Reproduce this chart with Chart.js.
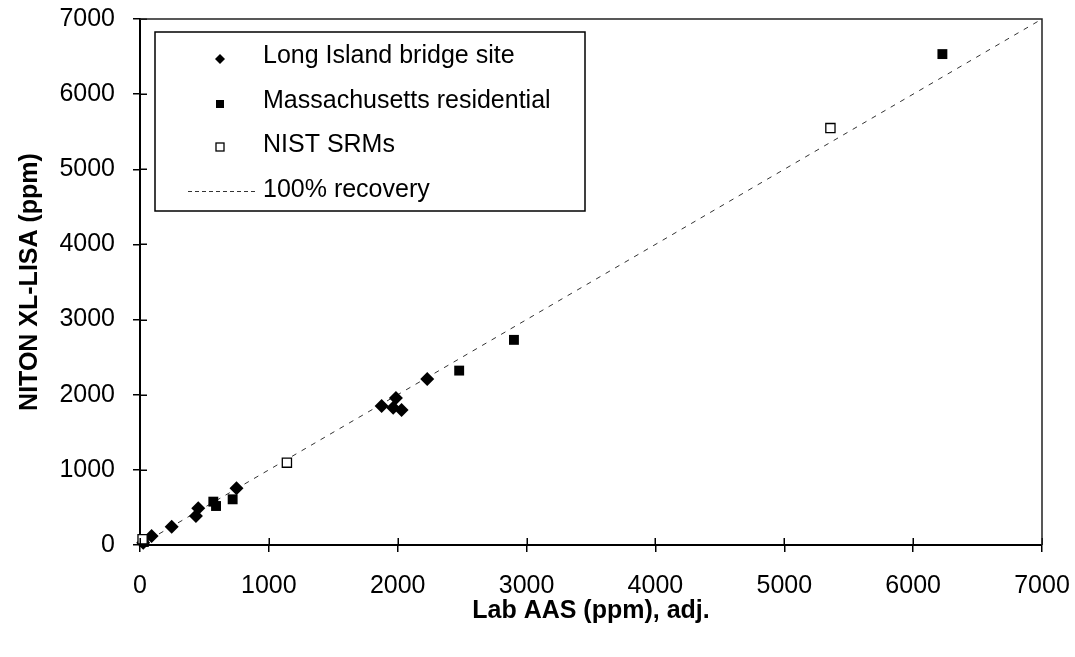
<!DOCTYPE html>
<html>
<head>
<meta charset="utf-8">
<script src="https://cdn.jsdelivr.net/npm/chart.js@4/dist/chart.umd.min.js"></script>
<style>
  html, body { margin: 0; padding: 0; background: #fff; }
  #wrap { width: 1075px; height: 657px; position: relative; }
</style>
</head>
<body>
<div id="wrap"><canvas id="c" width="1075" height="657"></canvas></div>
<script>
// ---- data ----
const longIslandX = [25, 90, 246, 434, 452, 749, 1875, 1965, 1986, 2030, 2229];
const longIslandY = [31, 120, 244, 386, 490, 755, 1851, 1828, 1955, 1798, 2210];
const massX = [30, 569, 590, 719, 2477, 2902, 6227];
const massY = [40, 577, 519, 608, 2321, 2730, 6533];
const nistX = [20, 1140, 5358];
const nistY = [76, 1096, 5548];
const recoveryX = [0, 7000];
const recoveryY = [0, 7000];
const tickValues = [0, 1000, 2000, 3000, 4000, 5000, 6000, 7000];
const seriesLabels = ['Long Island bridge site', 'Massachusetts residential', 'NIST SRMs', '100% recovery'];
const xTitle = 'Lab AAS (ppm), adj.';
const yTitle = 'NITON XL-LISA (ppm)';

const pts = (xs, ys) => xs.map((x, i) => ({x: x, y: ys[i]}));
const FONT = '"Liberation Sans", Arial, sans-serif';

// inner half of Excel-style "cross" tick marks + top/right frame
const framePlugin = {
  id: 'frame',
  afterDraw(chart) {
    const {ctx, chartArea: a, scales} = chart;
    ctx.save();
    ctx.strokeStyle = '#000';
    ctx.lineWidth = 1.5;
    ctx.beginPath();
    scales.x.ticks.forEach(t => {
      const px = Math.round(scales.x.getPixelForValue(t.value)) + 0.25;
      ctx.moveTo(px, a.bottom); ctx.lineTo(px, a.bottom - 7);
    });
    scales.y.ticks.forEach(t => {
      const py = Math.round(scales.y.getPixelForValue(t.value)) + 0.25;
      ctx.moveTo(a.left, py); ctx.lineTo(a.left + 7, py);
    });
    ctx.stroke();
    ctx.strokeStyle = '#222';
    ctx.lineWidth = 1.5;
    ctx.beginPath();
    ctx.moveTo(a.left, a.top); ctx.lineTo(a.right, a.top); ctx.lineTo(a.right, a.bottom);
    ctx.stroke();
    ctx.restore();
  }
};

// legend box drawn inside the plot, like the Excel original
const legendPlugin = {
  id: 'boxLegend',
  afterDraw(chart) {
    const ctx = chart.ctx;
    const box = {l: 155, t: 32, r: 585, b: 211};
    const rowsText = [56, 101, 145, 190];
    const rowsMark = [59, 104, 147, 191];
    const mx = 220, tx = 263;
    ctx.save();
    ctx.fillStyle = '#fff';
    ctx.fillRect(box.l, box.t, box.r - box.l, box.b - box.t);
    ctx.strokeStyle = '#000';
    ctx.lineWidth = 1.5;
    ctx.strokeRect(box.l, box.t, box.r - box.l, box.b - box.t);
    chart.data.datasets.forEach((ds, i) => {
      const y = rowsMark[i];
      ctx.save();
      if (ds.pointStyle === 'rectRot') {
        const r = 5;
        ctx.fillStyle = '#000';
        ctx.beginPath();
        ctx.moveTo(mx, y - r); ctx.lineTo(mx + r, y); ctx.lineTo(mx, y + r); ctx.lineTo(mx - r, y);
        ctx.closePath(); ctx.fill();
      } else if (ds.pointStyle === 'rect') {
        const s = 8;
        if (ds.pointBackgroundColor === '#fff') {
          ctx.fillStyle = '#fff'; ctx.fillRect(mx - s / 2, y - s / 2, s, s);
          ctx.strokeStyle = '#000'; ctx.lineWidth = 1.3;
          ctx.strokeRect(mx - s / 2, y - s / 2, s, s);
        } else {
          ctx.fillStyle = '#000'; ctx.fillRect(mx - s / 2, y - s / 2, s, s);
        }
      } else {
        ctx.strokeStyle = ds.borderColor; ctx.lineWidth = 1;
        ctx.setLineDash([4, 3]);
        ctx.beginPath(); ctx.moveTo(188, y + 0.5); ctx.lineTo(258, y + 0.5); ctx.stroke();
      }
      ctx.restore();
      ctx.fillStyle = '#000';
      ctx.font = '25px ' + FONT;
      ctx.textBaseline = 'middle';
      ctx.textAlign = 'left';
      ctx.fillText(ds.label, tx, rowsText[i]);
    });
    ctx.restore();
  }
};

const plainTick = v => String(v);

new Chart(document.getElementById('c'), {
  type: 'scatter',
  data: {
    datasets: [
      { label: seriesLabels[0], data: pts(longIslandX, longIslandY), pointStyle: 'rectRot',
        pointRadius: 7, pointHoverRadius: 7, pointBackgroundColor: '#000', pointBorderColor: '#000',
        pointBorderWidth: 0, clip: false, order: 1 },
      { label: seriesLabels[1], data: pts(massX, massY), pointStyle: 'rect',
        pointRadius: 7, pointHoverRadius: 7, pointBackgroundColor: '#000', pointBorderColor: '#000',
        pointBorderWidth: 0, clip: false, order: 2 },
      { label: seriesLabels[2], data: pts(nistX, nistY), pointStyle: 'rect',
        pointRadius: 6.5, pointHoverRadius: 6.5, pointBackgroundColor: '#fff', pointBorderColor: '#000',
        pointBorderWidth: 1.3, clip: false, order: 0 },
      { label: seriesLabels[3], data: pts(recoveryX, recoveryY), showLine: true, pointRadius: 0,
        borderColor: '#333', borderWidth: 1, borderDash: [5, 6], fill: false, order: 3 }
    ]
  },
  options: {
    responsive: false,
    animation: false,
    layout: { padding: { top: 19, right: 33, left: 0, bottom: 0 } },
    plugins: { legend: { display: false }, tooltip: { enabled: false } },
    scales: {
      x: {
        type: 'linear', min: 0, max: 7000,
        afterBuildTicks: s => { s.ticks = tickValues.map(v => ({value: v})); },
        afterFit: s => { s.height = 112; s.paddingLeft = 0; s.paddingRight = 0; },
        ticks: { color: '#000', font: { family: FONT, size: 25 }, padding: 19, maxRotation: 0, callback: plainTick },
        grid: { drawOnChartArea: false, drawTicks: true, tickLength: 7, color: '#000', lineWidth: 1.5 },
        border: { display: true, color: '#000', width: 2 },
        title: { display: true, text: xTitle, color: '#000',
                 font: { family: FONT, size: 25, weight: 'bold' }, padding: { top: 0, bottom: 31 } }
      },
      y: {
        type: 'linear', min: 0, max: 7000,
        afterBuildTicks: s => { s.ticks = tickValues.map(v => ({value: v})); },
        afterFit: s => { s.width = 140; s.paddingTop = 0; s.paddingBottom = 0; },
        ticks: { color: '#000', font: { family: FONT, size: 25 }, padding: 18, callback: plainTick },
        grid: { drawOnChartArea: false, drawTicks: true, tickLength: 7, color: '#000', lineWidth: 1.5 },
        border: { display: true, color: '#000', width: 2 },
        title: { display: true, text: yTitle, color: '#000',
                 font: { family: FONT, size: 25, weight: 'bold' }, padding: { top: 15, bottom: 0 } }
      }
    }
  },
  plugins: [framePlugin, legendPlugin]
});
</script>
</body>
</html>
